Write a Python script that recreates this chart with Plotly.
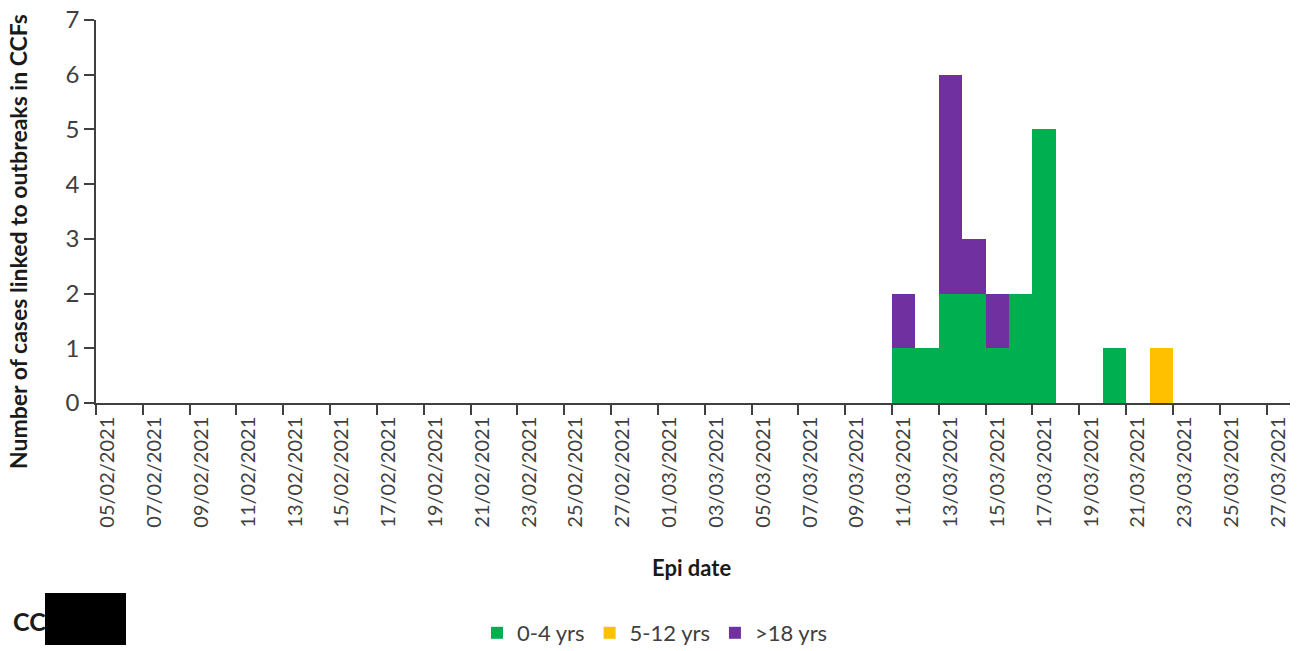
import pandas as pd
import plotly.graph_objects as go

# ---- data ----
start_date = "2021-02-05"
end_date = "2021-03-27"
case_dates = ["11/03/2021", "12/03/2021", "13/03/2021", "14/03/2021", "15/03/2021",
              "16/03/2021", "17/03/2021", "20/03/2021", "22/03/2021"]
age_0_4 = [1, 1, 2, 2, 1, 2, 5, 1, 0]
age_5_12 = [0, 0, 0, 0, 0, 0, 0, 0, 1]
age_18_plus = [1, 0, 4, 1, 1, 0, 0, 0, 0]
series_names = ["0-4 yrs", "5-12 yrs", ">18 yrs"]
series_colors = ["#00B050", "#FFC000", "#7030A0"]

all_dates = [d.strftime("%d/%m/%Y") for d in pd.date_range(start_date, end_date, freq="D")]
idx = {d: i for i, d in enumerate(all_dates)}
x_pos = [idx[d] for d in case_dates]

fig = go.Figure()
for name, vals, col in zip(series_names, [age_0_4, age_5_12, age_18_plus], series_colors):
    fig.add_trace(go.Bar(x=x_pos, y=vals, name=name, width=1,
                         marker=dict(color=col, line=dict(width=0))))

FONT = "Lato"
L, R, T, B = 96, 1290, 20, 403
PW, PH = R - L, B - T


def px(xp):
    return (xp - L) / PW


def py(yp):
    return (B - yp) / PH


tick_idx = list(range(0, len(all_dates), 2))
fig.update_layout(
    barmode="stack",
    width=1300, height=651,
    margin=dict(l=L, r=1300 - R, t=T, b=651 - B, autoexpand=False),
    plot_bgcolor="white", paper_bgcolor="white",
    font=dict(family=FONT, color="#404040"),
    showlegend=True,
    legend=dict(orientation="h", x=px(655), xanchor="center", y=py(633), yanchor="middle",
                font=dict(size=22, color="#404040", family=FONT), traceorder="normal",
                itemwidth=30),
)
fig.update_xaxes(
    automargin=False,
    range=[-0.5, len(all_dates) - 0.5],
    tickmode="array", tickvals=tick_idx, ticktext=[all_dates[i] for i in tick_idx],
    tickangle=-90, ticks="", ticklabelstandoff=4,
    tickfont=dict(size=20, color="#404040", family=FONT),
    showline=True, linecolor="#404040", linewidth=1.5, showgrid=False, zeroline=False,
    minor=dict(tickvals=[i - 0.5 for i in tick_idx], ticks="outside", ticklen=10,
               tickcolor="#404040", tickwidth=1.5, showgrid=False),
)
fig.update_yaxes(
    automargin=False,
    range=[0, 7], dtick=1, ticks="outside", ticklen=10, tickcolor="#404040", tickwidth=1.5,
    tickfont=dict(size=24, color="#404040", family=FONT),
    showline=True, linecolor="#404040", linewidth=1.5, showgrid=False, zeroline=False,
)
fig.add_annotation(text="<b>Number of cases linked to outbreaks in CCFs</b>", textangle=-90,
                   xref="paper", yref="paper", x=px(18), y=py(242), showarrow=False,
                   xanchor="center", yanchor="middle",
                   font=dict(size=23, color="#1a1a1a", family=FONT))
fig.add_annotation(text="<b>Epi date</b>", xref="paper", yref="paper", x=px(691), y=py(567),
                   showarrow=False, xanchor="center", yanchor="middle",
                   font=dict(size=22, color="#1a1a1a", family=FONT))
fig.add_annotation(text="<b>CC</b>", xref="paper", yref="paper", x=px(11), y=py(621),
                   showarrow=False, xanchor="left", yanchor="middle",
                   font=dict(size=25, color="#1a1a1a", family=FONT))
fig.add_shape(type="rect", xref="paper", yref="paper",
              x0=px(45), x1=px(126), y0=py(645), y1=py(593),
              fillcolor="black", line=dict(width=0))

fig.write_html("out.html", config={"displayModeBar": False},
               post_script="document.body.style.margin='0';document.body.style.overflow='hidden';")
